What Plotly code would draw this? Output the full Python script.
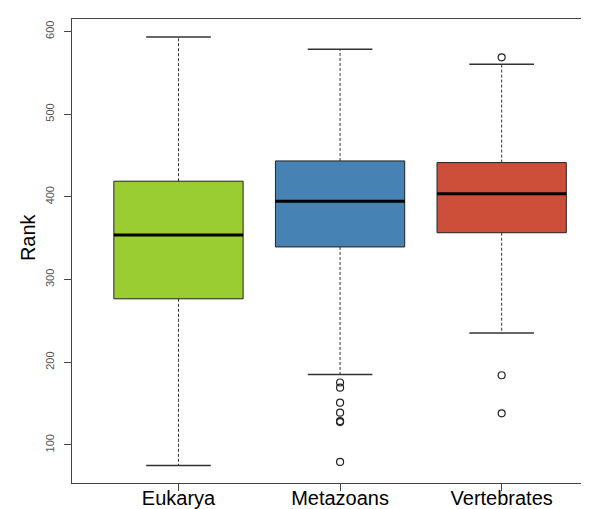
import plotly.graph_objects as go

categories = ["Eukarya", "Metazoans", "Vertebrates"]
q1 = [276.7, 339.4, 356.6]
median = [353.9, 394.8, 403.6]
q3 = [418.9, 443.4, 441.4]
lower_whisker = [75.2, 185.2, 235.4]
upper_whisker = [593.3, 578.3, 560.2]
outliers = [
    [],
    [175.5, 169.2, 151.1, 139.0, 128.9, 127.7, 79.5],
    [568.7, 184.3, 138.2],
]
colors = ["#9ACD32", "#4682B4", "#CD4F39"]
y_ticks = [100, 200, 300, 400, 500, 600]

BOX_HALF = 0.4
CAP_HALF = 0.2

fig = go.Figure()
for i, cat in enumerate(categories):
    x = i + 1
    fig.add_trace(go.Scatter(
        x=[x, x, None, x, x],
        y=[q3[i], upper_whisker[i], None, q1[i], lower_whisker[i]],
        mode="lines", line=dict(color="#333333", width=1, dash="3px,2px"),
        hoverinfo="skip", showlegend=False))
    fig.add_trace(go.Scatter(
        x=[x - CAP_HALF, x + CAP_HALF, None, x - CAP_HALF, x + CAP_HALF],
        y=[upper_whisker[i], upper_whisker[i], None, lower_whisker[i], lower_whisker[i]],
        mode="lines", line=dict(color="#333333", width=1.5),
        hoverinfo="skip", showlegend=False))
    fig.add_trace(go.Scatter(
        x=[x - BOX_HALF, x + BOX_HALF, x + BOX_HALF, x - BOX_HALF, x - BOX_HALF],
        y=[q1[i], q1[i], q3[i], q3[i], q1[i]],
        mode="lines", fill="toself", fillcolor=colors[i],
        line=dict(color="#222222", width=1),
        hoverinfo="skip", showlegend=False))
    fig.add_trace(go.Scatter(
        x=[x - BOX_HALF, x + BOX_HALF], y=[median[i], median[i]],
        mode="lines", line=dict(color="#000000", width=3),
        hoverinfo="skip", showlegend=False))
    if outliers[i]:
        fig.add_trace(go.Scatter(
            x=[x] * len(outliers[i]), y=outliers[i], mode="markers",
            marker=dict(symbol="circle-open", size=7, color="#222222",
                        line=dict(width=1.2)),
            hoverinfo="skip", showlegend=False))

fig.update_layout(
    width=589, height=509,
    margin=dict(l=64, r=0, t=11, b=34),
    paper_bgcolor="white", plot_bgcolor="white",
    font=dict(family="Liberation Sans, Arial, sans-serif", color="#000000"),
    xaxis=dict(
        range=[0.341, 3.59], tickvals=[1, 2, 3], ticktext=categories,
        showline=True, linecolor="#444444", linewidth=1.3, mirror=True,
        ticks="outside", ticklen=7, tickcolor="#444444",
        showgrid=False, zeroline=False, ticklabelstandoff=-10,
        tickfont=dict(size=20, color="#000000"),
    ),
    yaxis=dict(
        range=[54, 615], tickvals=y_ticks,
        showline=True, linecolor="#444444", linewidth=1.3, mirror=False,
        ticks="outside", ticklen=7, tickcolor="#444444",
        showgrid=False, zeroline=False, tickangle=-90, ticklabelstandoff=5,
        tickfont=dict(size=11, color="#555555"),
    ),
    annotations=[dict(
        text="Rank", xref="paper", yref="paper", x=-0.0838, y=0.530,
        xanchor="center", yanchor="middle", textangle=-90, showarrow=False,
        font=dict(size=20, color="#000000"),
    )],
)

fig.write_html("out.html")
